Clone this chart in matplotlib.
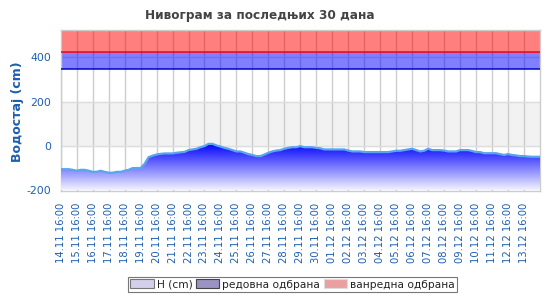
import numpy as np
import matplotlib
matplotlib.use("Agg")
import matplotlib.pyplot as plt
from matplotlib.patches import Patch
from matplotlib.colors import LinearSegmentedColormap

# ---- data (water level H in cm, sampled every 6 hours from 14.11 16:00) ----
levels = [
    -104, -104, -104, -107, -111, -107, -107, -111, -116, -116,
    -111, -116, -120, -120, -116, -116, -111, -107, -99, -99,
    -99, -80, -50, -43, -38, -35, -33, -33, -33, -30,
    -28, -26, -18, -15, -12, -5, 0, 10, 10, 3,
    -2, -8, -12, -18, -24, -24, -30, -36, -40, -45,
    -45, -38, -30, -24, -20, -18, -12, -8, -5, -5,
    0, -5, -5, -5, -8, -10, -15, -15, -15, -15,
    -15, -15, -20, -24, -24, -24, -27, -27, -27, -27,
    -27, -27, -27, -24, -21, -21, -18, -15, -12, -18,
    -24, -21, -12, -18, -18, -18, -20, -24, -24, -24,
    -18, -18, -18, -22, -27, -27, -32, -32, -32, -32,
    -36, -40, -36, -40, -42, -45, -45, -47, -48, -48,
    -48,
]
step_hours = 6
regular_defence = 346     # редовна одбрана
extraordinary_defence = 423  # ванредна одбрана
y_min, y_max = -200, 523
y_ticks = [-200, 0, 200, 400]
x_tick_labels = [
    "14.11 16:00", "15.11 16:00", "16.11 16:00", "17.11 16:00", "18.11 16:00",
    "19.11 16:00", "20.11 16:00", "21.11 16:00", "22.11 16:00", "23.11 16:00",
    "24.11 16:00", "25.11 16:00", "26.11 16:00", "27.11 16:00", "28.11 16:00",
    "29.11 16:00", "30.11 16:00", "01.12 16:00", "02.12 16:00", "03.12 16:00",
    "04.12 16:00", "05.12 16:00", "06.12 16:00", "07.12 16:00", "08.12 16:00",
    "09.12 16:00", "10.12 16:00", "11.12 16:00", "12.12 16:00", "13.12 16:00",
]
title = "Нивограм за последњих 30 дана"
y_label = "Водостај (cm)"
legend_labels = ["H (cm)", "редовна одбрана", "ванредна одбрана"]

# ---- figure ----
W, H = 550, 300
fig = plt.figure(figsize=(W / 100, H / 100), dpi=100)
left, right, top, bottom = 60.7, 540, 30, 190.5
ax = fig.add_axes([left / W, 1 - bottom / H, (right - left) / W, (bottom - top) / H])

x = np.arange(len(levels)) * step_hours
y = np.array(levels, dtype=float)
x_max = x[-1]

ax.set_xlim(0, x_max)
ax.set_ylim(y_min, y_max)

# alternating band 0..200
ax.axhspan(0, 200, color="#f2f2f2", zorder=0)
# grid
tick_pos = np.arange(len(x_tick_labels)) * 24
for t in tick_pos:
    ax.axvline(t, color="#cccccc", lw=1, zorder=1)
for t in [0, 200, 400]:
    ax.axhline(t, color="#dddddd", lw=1, zorder=1)

# defence bands (semi-transparent)
ax.axhspan(regular_defence, extraordinary_defence, color=(0, 0, 1), alpha=0.5, lw=0, zorder=2)
ax.axhspan(extraordinary_defence, y_max, color=(1, 0, 0), alpha=0.5, lw=0, zorder=2)
ax.axhline(regular_defence, color="#0000cc", lw=1.1, zorder=3)
ax.axhline(extraordinary_defence, color="#ff0000", lw=1.1, zorder=3)

# gradient area
poly = ax.fill_between(x, y, y_min, color="none", lw=0, zorder=3)
cmap = LinearSegmentedColormap.from_list("g", [(0.95, 0.95, 1.0), (0.0, 0.0, 1.0)])
grad = np.linspace(0, 1, 256).reshape(-1, 1)
top_val = y.max()
im = ax.imshow(grad, extent=[0, x_max, y_min, top_val], origin="lower", cmap=cmap,
               aspect="auto", zorder=3, interpolation="bilinear")
path = poly.get_paths()[0]
im.set_clip_path(path, transform=ax.transData)
ax.plot(x, y, color="#58a6f0", lw=1.6, zorder=4, solid_joinstyle="round")

# axes styling
for s in ax.spines.values():
    s.set_color("#cccccc")
    s.set_linewidth(1)
ax.set_xticks(tick_pos)
ax.set_xticklabels(x_tick_labels, rotation=90, fontsize=7.2, color="#1d5eb0")
ax.set_yticks(y_ticks)
ax.set_yticklabels([str(v) for v in y_ticks], fontsize=7.8, color="#1d5eb0")
ax.tick_params(axis="x", length=0, pad=9)
ax.tick_params(axis="y", length=0, pad=7)

fig.text(260 / W, 1 - 15 / H, title, ha="center", va="center", fontsize=8.7,
         fontweight="bold", color="#444444")
fig.text(18 / W, 1 - 112 / H, y_label, ha="center", va="center", rotation=90,
         fontsize=9, fontweight="bold", color="#1d5eb0")

handles = [
    Patch(facecolor="#d4cfea", edgecolor="#777777", lw=0.8),
    Patch(facecolor="#9a92c2", edgecolor="#444444", lw=0.8),
    Patch(facecolor="#eaa0a0", edgecolor="#dddddd", lw=0.8),
]
leg = fig.legend(handles, legend_labels, loc="center", bbox_to_anchor=(292.5 / W, 1 - 284.5 / H),
                 ncol=3, fontsize=7.7, frameon=True, fancybox=False, edgecolor="#555555",
                 handlelength=2.2, handleheight=0.9, handletextpad=0.3, columnspacing=0.3,
                 borderpad=0.2, borderaxespad=0)
leg.get_frame().set_linewidth(0.8)
for t in leg.get_texts():
    t.set_color("#222222")

fig.savefig("out.png", dpi=100)
